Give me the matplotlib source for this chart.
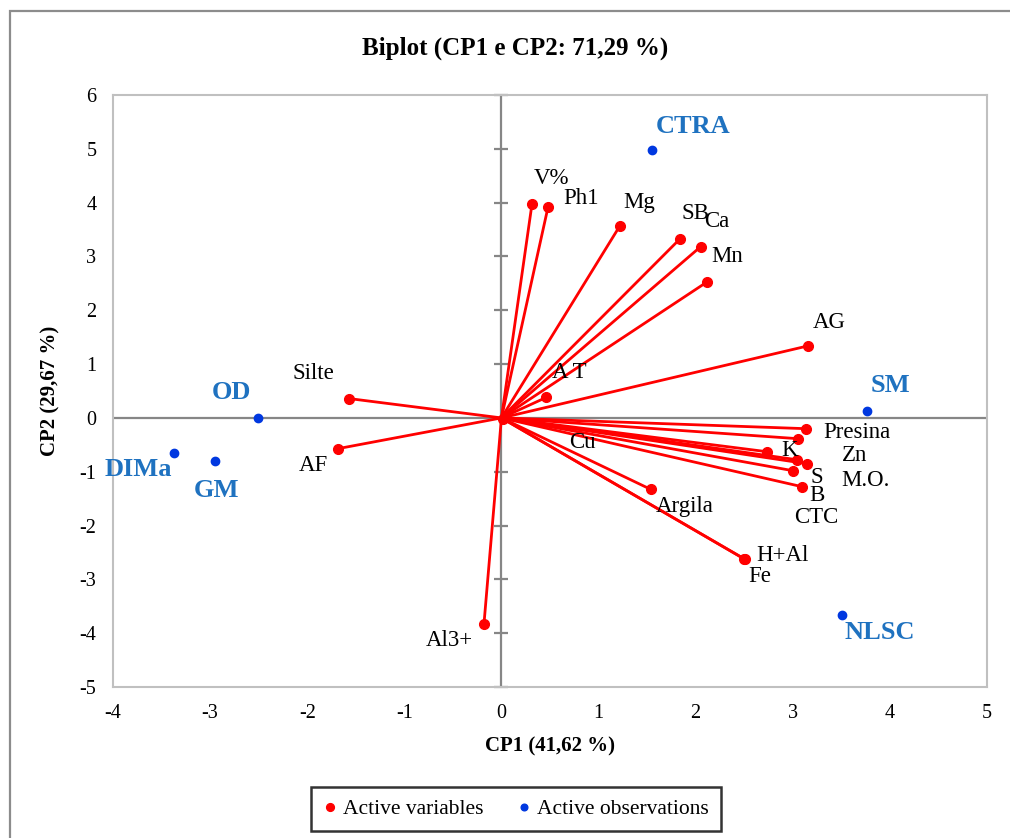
import matplotlib.pyplot as plt
from matplotlib.patches import Rectangle

# Variáveis ativas (CP1, CP2)
var_names = ['V%', 'Ph1', 'Mg', 'SB', 'Ca', 'Mn', 'AG', 'A T', 'Silte', 'AF', 'Al3+', 'Cu',
             'Argila', 'H+Al', 'Fe', 'Presina', 'Zn', 'K', 'M.O.', 'S', 'B', 'CTC']
var_x = [0.315, 0.48, 1.22, 1.84, 2.05, 2.12, 3.16, 0.46, -1.57, -1.68, -0.18, 0.02,
         1.54, 2.51, 2.50, 3.136, 3.054, 2.735, 3.146, 3.043, 3.002, 3.095]
var_y = [3.98, 3.92, 3.57, 3.33, 3.18, 2.53, 1.34, 0.38, 0.36, -0.57, -3.83, -0.02,
         -1.33, -2.63, -2.62, -0.20, -0.386, -0.628, -0.851, -0.777, -0.981, -1.278]
# deslocamento dos rótulos (pontos)
var_off = [(14, 18), (24, 6), (14, 17), (11, 18), (12, 18), (14, 18), (15, 17), (17, 18),
           (-26, 18), (-18, -12), (-25, -12), (57, -17), (24, -12), (27, 3), (11, -13),
           (37, -3), (41, -12), (16, 1), (42, -12), (14, -13), (17, -18), (10, -22)]

# Observações ativas
obs_names = ['CTRA', 'SM', 'OD', 'DIMa', 'GM', 'NLSC']
obs_x = [1.55, 3.76, -2.51, -3.37, -2.95, 3.51]
obs_y = [4.98, 0.13, 0.0, -0.65, -0.80, -3.67]
obs_off = [(30, 17), (17, 18), (-19, 18), (-26, -12), (1, -21), (27, -12)]

xticks = list(range(-4, 6))
yticks = list(range(-5, 7))

plt.rcParams['font.family'] = ['Liberation Serif', 'DejaVu Serif']
plt.rcParams['axes.unicode_minus'] = False

fig = plt.figure(figsize=(10.1, 8.38), dpi=100)
ax = fig.add_axes([0.1119, 0.1802, 0.8653, 0.7064])

# moldura externa
fig.patches.append(Rectangle((10 / 1010, -0.1), 1.1, 1 - 11 / 838 + 0.1, transform=fig.transFigure,
                             fill=False, edgecolor='#8c8c8c', linewidth=1.6, zorder=0))

ax.set_xlim(-4, 5)
ax.set_ylim(-5, 6)
ax.set_xticks(xticks)
ax.set_yticks(yticks)
ax.tick_params(length=0, labelsize=14.5, pad=12)
for s in ax.spines.values():
    s.set_color('#c0c0c0')
    s.set_linewidth(1.5)

# eixos de zero (marcas só no eixo vertical)
ax.axhline(0, color='#868686', lw=1.6, zorder=1)
ax.axvline(0, color='#868686', lw=1.6, zorder=1)
ax.plot([0] * len(yticks), yticks, ls='none', marker='_', ms=10, mew=1.6, color='#868686',
        clip_on=False, zorder=1)

# vetores das variáveis
for n, x, y, off in zip(var_names, var_x, var_y, var_off):
    ax.plot([0, x], [0, y], color='#ff0000', lw=2, zorder=2)
    ax.annotate(n, (x, y), xytext=off, textcoords='offset points', ha='center', va='center',
                fontsize=16.5, color='black', zorder=4)
ax.plot(var_x, var_y, ls='none', marker='o', ms=7, color='#ff0000', zorder=3,
        label='Active variables')

# observações
ax.plot(obs_x, obs_y, ls='none', marker='o', ms=6, color='#0038e0', zorder=3,
        label='Active observations')
for n, x, y, off in zip(obs_names, obs_x, obs_y, obs_off):
    ax.annotate(n, (x, y), xytext=off, textcoords='offset points', ha='center', va='center',
                fontsize=19, fontweight='bold', color='#1f72c0', zorder=4)

fig.text(0.51, 1 - 48 / 838, 'Biplot (CP1 e CP2: 71,29 %)', ha='center', va='center',
         fontsize=18, fontweight='bold')
ax.set_xlabel('CP1 (41,62 %)', fontsize=15, fontweight='bold', labelpad=10)
ax.set_ylabel('CP2 (29,67 %)', fontsize=15, fontweight='bold', labelpad=14)

leg = fig.legend(loc='center', bbox_to_anchor=(516 / 1010, 1 - 809 / 838), ncol=2, fontsize=15.5,
                 frameon=True, fancybox=False, edgecolor='black', markerscale=0.8,
                 handlelength=0.6, handletextpad=0.3, columnspacing=1.6, borderpad=0.55,
                 borderaxespad=0)
leg.get_frame().set_linewidth(1.8)

fig.savefig('out.png', dpi=100)
